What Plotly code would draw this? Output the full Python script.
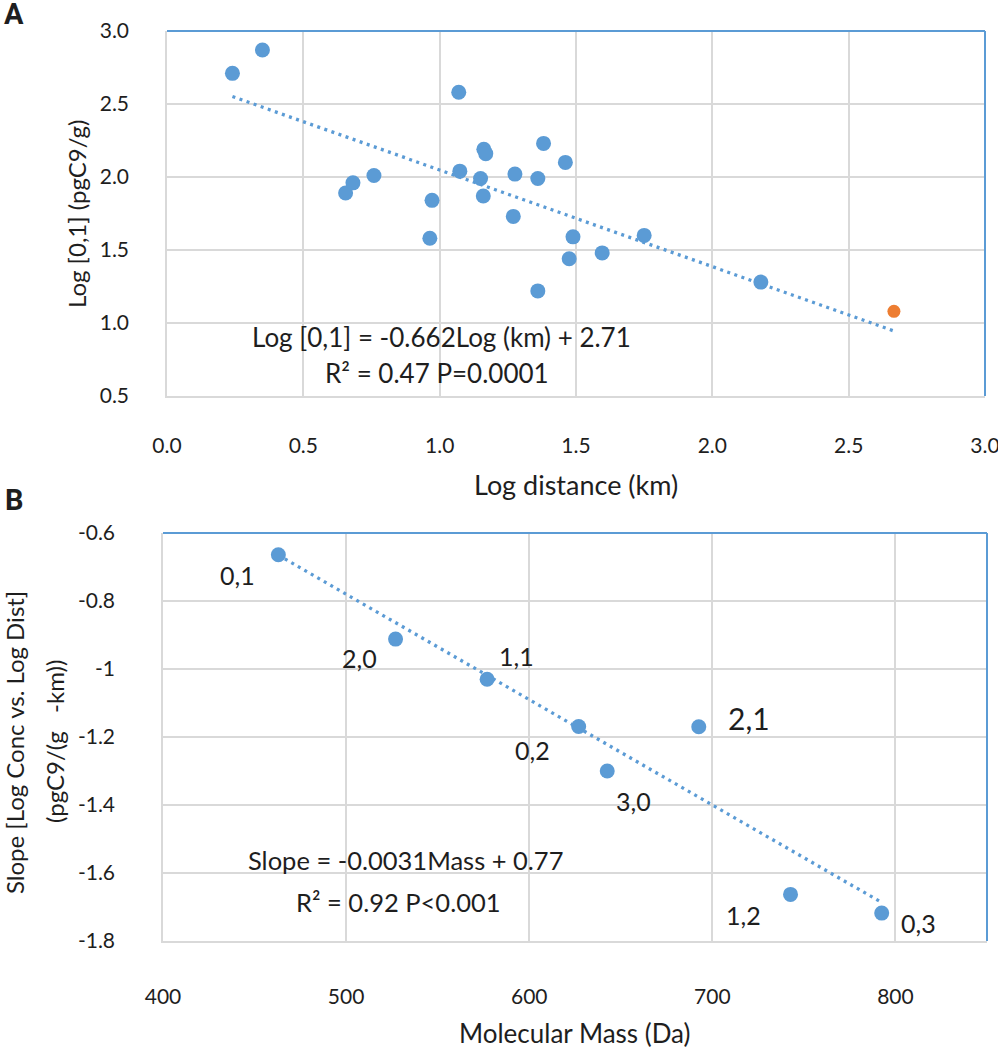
import plotly.graph_objects as go

# ---------------- Data: panel A ----------------
log_dist_blue = [0.24, 0.35, 1.07, 0.655, 0.682, 0.759, 0.972, 0.964, 1.074, 1.162,
                 1.169, 1.150, 1.160, 1.276, 1.381, 1.360, 1.461, 1.270, 1.489, 1.596,
                 1.475, 1.750, 1.360, 2.178]
log_conc_blue = [2.71, 2.87, 2.58, 1.89, 1.96, 2.01, 1.84, 1.58, 2.04, 2.19,
                 2.16, 1.99, 1.87, 2.02, 2.23, 1.99, 2.10, 1.73, 1.59, 1.48,
                 1.44, 1.60, 1.22, 1.28]
log_dist_orange = [2.666]
log_conc_orange = [1.08]
fit_a_slope = -0.662
fit_a_intercept = 2.71
eq_a_lines = ["Log [0,1] = -0.662Log (km) + 2.71", "R² = 0.47 P=0.0001"]

# ---------------- Data: panel B ----------------
mass = [463, 527, 577, 627, 692.6, 642.6, 742.7, 792.5]
slope_vals = [-0.664, -0.912, -1.03, -1.169, -1.17, -1.30, -1.663, -1.718]
point_labels = ["0,1", "2,0", "1,1", "0,2", "2,1", "3,0", "1,2", "0,3"]
fit_b_slope = -0.0031
fit_b_intercept = 0.77
eq_b_lines = ["Slope = -0.0031Mass + 0.77", "R² = 0.92 P<0.001"]

ya_ticks = [0.5, 1.0, 1.5, 2.0, 2.5, 3.0]
xa_ticks = [0.0, 0.5, 1.0, 1.5, 2.0, 2.5, 3.0]
yb_ticks = [-1.8, -1.6, -1.4, -1.2, -1.0, -0.8, -0.6]
yb_ticktext = ["-1.8", "-1.6", "-1.4", "-1.2", "-1", "-0.8", "-0.6"]
xb_ticks = [400, 500, 600, 700, 800]

# ---------------- Styling ----------------
W, H = 998, 1050
FONT = "Lato"
TXT = "#1e1e1e"
BLUE = "#5B9BD5"
ORANGE = "#ED7D31"
GRID = "#D9D9D9"

def px_x(p):
    return p / W

def px_y(p):
    return 1 - p / H

# plot-area pixel boxes
A_box = (167, 31, 985, 396)
B_box = (163, 533, 987, 941)

# label pixel offsets (dx, dy up) for panel B point labels
label_offsets = [(-41, -20), (-36, -19), (29, 23), (-46, -24), (50, 9), (26, -30), (-47, -21), (37, -10)]
label_sizes = [25, 25, 25, 25, 30, 25, 25, 25]

fig = go.Figure()

DOT = dict(color=BLUE, width=3.3, dash="3px,4.5px")

# Panel A
fig.add_trace(go.Scatter(x=log_dist_blue, y=log_conc_blue, mode="markers",
                         marker=dict(color=BLUE, size=15), xaxis="x", yaxis="y",
                         showlegend=False))
fig.add_trace(go.Scatter(x=log_dist_orange, y=log_conc_orange, mode="markers",
                         marker=dict(color=ORANGE, size=13), xaxis="x", yaxis="y",
                         showlegend=False))
all_a_x = log_dist_blue + log_dist_orange
xa_fit = [min(all_a_x), max(all_a_x)]
fig.add_trace(go.Scatter(x=xa_fit, y=[fit_a_slope * v + fit_a_intercept for v in xa_fit],
                         mode="lines", line=DOT, xaxis="x", yaxis="y", showlegend=False))

# Panel B
xb_fit = [min(mass), max(mass)]
fig.add_trace(go.Scatter(x=xb_fit, y=[fit_b_slope * v + fit_b_intercept for v in xb_fit],
                         mode="lines", line=DOT, xaxis="x2", yaxis="y2", showlegend=False))
fig.add_trace(go.Scatter(x=mass, y=slope_vals, mode="markers",
                         marker=dict(color=BLUE, size=15), xaxis="x2", yaxis="y2",
                         showlegend=False))

axis_common = dict(showgrid=True, gridcolor=GRID, gridwidth=1.5, zeroline=False,
                   showline=True, linecolor=GRID, linewidth=1.5, ticks="",
                   automargin=False, ticklabeloverflow="allow",
                   tickfont=dict(family=FONT, size=21, color=TXT))

fig.update_layout(
    width=W, height=H,
    margin=dict(l=0, r=0, t=0, b=0, autoexpand=False),
    paper_bgcolor="white", plot_bgcolor="white",
    xaxis=dict(domain=[px_x(A_box[0]), px_x(A_box[2])], range=[0, 3], tickvals=xa_ticks,
               ticktext=[f"{v:.1f}" for v in xa_ticks], anchor="y", ticklabelstandoff=30,
               **axis_common),
    yaxis=dict(domain=[px_y(A_box[3]), px_y(A_box[1])], range=[0.5, 3.0], tickvals=ya_ticks,
               ticktext=[f"{v:.1f}" for v in ya_ticks], anchor="x", ticklabelstandoff=32,
               **axis_common),
    xaxis2=dict(domain=[px_x(B_box[0]), px_x(B_box[2])], range=[400, 850], tickvals=xb_ticks,
                anchor="y2", ticklabelstandoff=36, **axis_common),
    yaxis2=dict(domain=[px_y(B_box[3]), px_y(B_box[1])], range=[-1.8, -0.6], tickvals=yb_ticks,
                ticktext=yb_ticktext, anchor="x2", ticklabelstandoff=42, **axis_common),
)

# blue top/right frame lines
for xr, yr in (("x", "y"), ("x2", "y2")):
    fig.add_shape(type="line", xref=f"{xr} domain", yref=f"{yr} domain", x0=0, x1=1, y0=1, y1=1,
                  line=dict(color=BLUE, width=2))
    fig.add_shape(type="line", xref=f"{xr} domain", yref=f"{yr} domain", x0=1, x1=1, y0=0, y1=1,
                  line=dict(color=BLUE, width=2))

tf = dict(family=FONT, color=TXT)

def note(text, xp, yp, size, angle=0, fam=None):
    f = dict(size=size, **tf)
    if fam:
        f["family"] = fam
    return dict(text=text, x=px_x(xp), y=px_y(yp), xref="paper", yref="paper",
                xanchor="center", yanchor="middle", textangle=angle,
                showarrow=False, font=f)

ann = []
ann.append(note("<b>A</b>", 14, 14, 29, fam="Roboto"))
ann.append(note("<b>B</b>", 14, 500, 29, fam="Roboto"))
ann.append(note("Log distance (km)", 576, 484, 27))
ann.append(note("Log [0,1] (pgC9/g)", 77, 214, 24, angle=-90))
ann.append(note("Molecular Mass (Da)", 575, 1033, 26))
ann.append(note("Slope [Log Conc vs. Log Dist]", 14, 743, 24, angle=-90))
ann.append(note("(pgC9/(g   -km))", 54, 742, 24, angle=-90))
ann.append(note(eq_a_lines[0], 441, 337, 26))
ann.append(note(eq_a_lines[1], 437, 373, 26))
ann.append(note(eq_b_lines[0], 405, 860, 25.5))
ann.append(note(eq_b_lines[1], 398, 902, 25.5))
for xv, yv, lab, (dx, dy), sz in zip(mass, slope_vals, point_labels, label_offsets, label_sizes):
    ann.append(dict(text=lab, x=xv, y=yv, xref="x2", yref="y2", xshift=dx, yshift=dy,
                    xanchor="center", yanchor="middle",
                    showarrow=False, font=dict(size=sz, **tf)))

fig.update_layout(annotations=ann)
fig.write_html("out.html", config={"displayModeBar": False},
               post_script="document.body.style.margin='0px';document.body.style.overflow='hidden';")
